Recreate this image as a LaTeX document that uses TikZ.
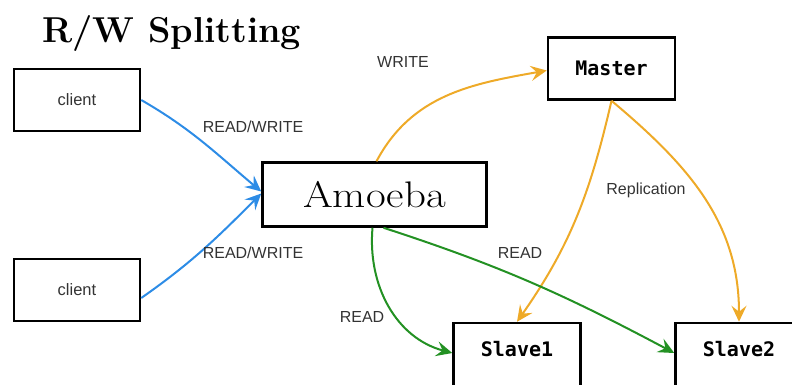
\documentclass[tikz,border=0pt]{standalone}
\usepackage{fontspec}
\newfontfamily\labelfont{Liberation Sans}
\newfontfamily\boxfont{DejaVu Sans Mono}
\usetikzlibrary{arrows.meta,positioning}

\definecolor{rwblue}{RGB}{45,140,230}
\definecolor{rworange}{RGB}{238,170,40}
\definecolor{rwgreen}{RGB}{35,145,35}

\begin{document}
\begin{tikzpicture}[x=1pt,y=1pt,
    box/.style={draw,line width=2.5pt,inner sep=0pt},
    clientbox/.style={box,minimum width=126pt,minimum height=62pt,font=\labelfont\fontsize{16.5}{18}\selectfont,text=black!80},
    serverbox/.style={box,minimum width=127pt,minimum height=62pt,font=\boxfont\bfseries\fontsize{20}{22}\selectfont},
    lbl/.style={font=\labelfont\fontsize{16}{18}\selectfont,text=black!80},
    flow/.style={line width=2pt,-{Stealth[length=16pt,width=15pt,inset=6pt]}}]
      % frame
      \useasboundingbox (0,0) rectangle (792,-384);
      \clip (0,0) rectangle (792,-384);
      % Title
      \node[anchor=base west,font=\bfseries\fontsize{36}{42}\selectfont,inner sep=0pt] (title) at (42,-42) {R/W Splitting};
      % Boxes
      \node[clientbox] (client1) at (77,-100) {client};
      \node[clientbox] (client2) at (77,-290) {client};
      \node[box,minimum width=224pt,minimum height=64pt,font=\fontsize{37}{40}\selectfont] (amoeba) at (374.5,-194.5) {\scalebox{1.16}[1]{Amoeba}};
      \node[serverbox] (master) at (611.5,-68.5) {Master};
      \node[serverbox,minimum height=66pt,text depth=14pt] (slave1) at (517,-356) {Slave1};
      \node[serverbox,minimum height=66pt,text depth=14pt] (slave2) at (739,-356) {Slave2};
      % Client traffic
      \draw[flow,rwblue] (client1.east) to[out=-30,in=140] ([yshift=3]amoeba.west);
      \draw[flow,rwblue] ([yshift=-8]client2.east) to[out=35,in=-135] ([yshift=1]amoeba.west);
      % Writes and replication
      \draw[flow,rworange] ([xshift=2]amoeba.north) to[out=62,in=190] ([yshift=-2]master.west);
      \draw[flow,rworange] (master.south) to[out=-103,in=55] (slave1.north);
      \draw[flow,rworange] (master.south) to[out=-40,in=90] (slave2.north);
      % Reads
      \draw[flow,rwgreen] ([xshift=-2]amoeba.south) to[out=-95,in=165] ([yshift=3]slave1.west);
      \draw[flow,rwgreen] ([xshift=9]amoeba.south) to[out=-18,in=152] ([yshift=3]slave2.west);
      % Labels
      \node[lbl] (rw1) at (253,-127) {READ/WRITE};
      \node[lbl] (rw2) at (253,-253) {READ/WRITE};
      \node[lbl] (write) at (403,-62) {WRITE};
      \node[lbl] (repl) at (646,-190) {Replication};
      \node[lbl] (read1) at (520,-253) {READ};
      \node[lbl] (read2) at (362,-317) {READ};
\end{tikzpicture}
\end{document}
